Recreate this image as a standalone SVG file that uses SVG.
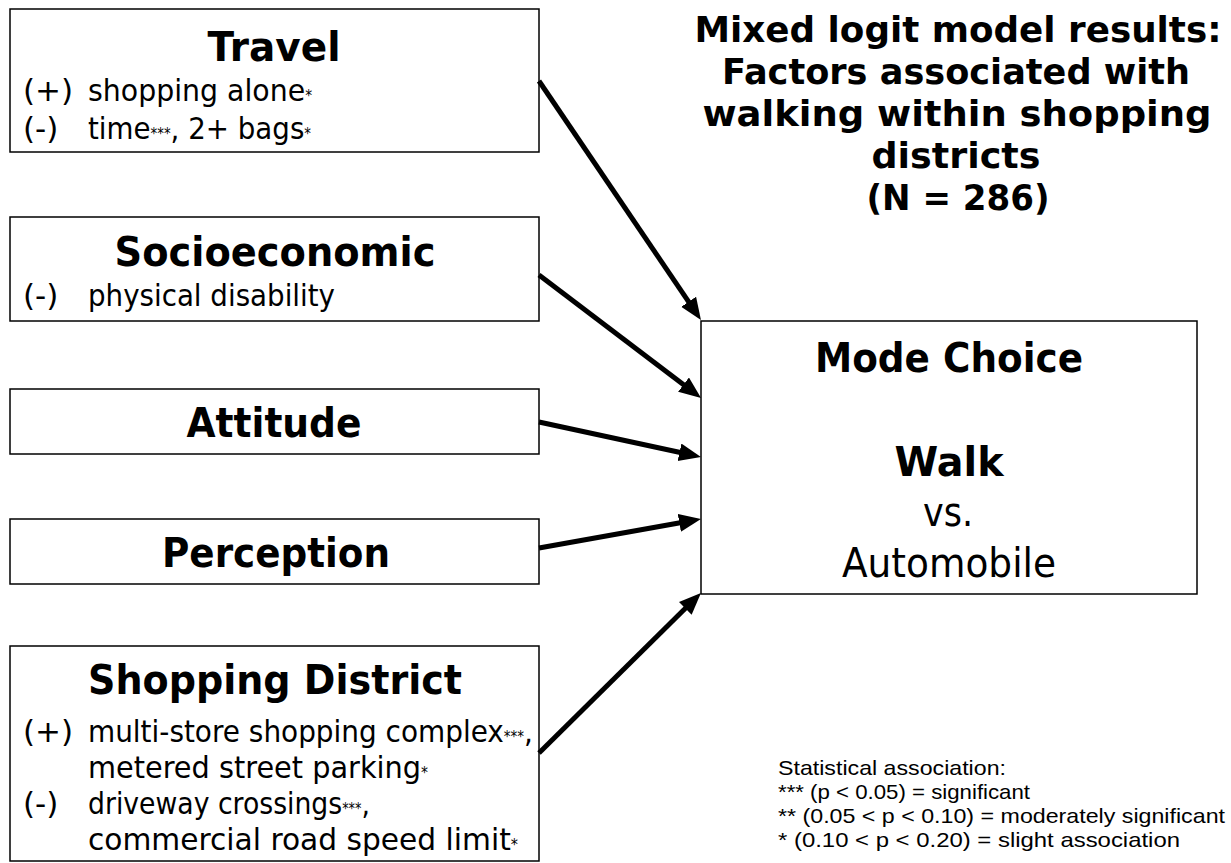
<svg xmlns="http://www.w3.org/2000/svg" width="1231" height="863" viewBox="0 0 1231 863">
<style>
.box{fill:#fff;stroke:#000;stroke-width:1.5}
.h{font-family:"DejaVu Sans",Verdana,sans-serif;font-weight:bold;font-size:41px;text-anchor:middle;fill:#000}
.b{font-family:"DejaVu Sans",Verdana,sans-serif;font-size:31px;fill:#000}
.r{font-family:"DejaVu Sans",Verdana,sans-serif;font-size:40px;text-anchor:middle;fill:#000}
.s{font-size:15px}
.t{font-family:"DejaVu Sans",Verdana,sans-serif;font-weight:bold;font-size:36px;text-anchor:middle;fill:#000}
.n{font-family:"Liberation Sans",Arial,sans-serif;font-size:21px;fill:#000}
.c{stroke:#000;stroke-width:5;fill:none}
</style>
<defs>
<marker id="ah" markerUnits="userSpaceOnUse" markerWidth="24" markerHeight="20" refX="8" refY="9" orient="auto"><path d="M0,0 L22,9 L0,18 z" fill="#000"/></marker>
</defs>
<rect width="1231" height="863" fill="#fff"/>

<g id="title">
<text class="t" x="958" y="42" textLength="527" lengthAdjust="spacingAndGlyphs">Mixed logit model results:</text>
<text class="t" x="956" y="84" textLength="468" lengthAdjust="spacingAndGlyphs">Factors associated with</text>
<text class="t" x="957" y="126" textLength="509" lengthAdjust="spacingAndGlyphs">walking within shopping</text>
<text class="t" x="956" y="168" textLength="169" lengthAdjust="spacingAndGlyphs">districts</text>
<text class="t" x="958" y="210" textLength="183" lengthAdjust="spacingAndGlyphs">(N = 286)</text>
</g>

<g id="travel">
<rect class="box" x="10" y="9" width="529" height="143"/>
<text class="h" x="274" y="61" textLength="133" lengthAdjust="spacingAndGlyphs">Travel</text>
<text class="b" x="23" y="101">(+)</text>
<text class="b" x="88" y="101" textLength="224" lengthAdjust="spacingAndGlyphs">shopping alone<tspan class="s">*</tspan></text>
<text class="b" x="23" y="139">(-)</text>
<text class="b" x="88" y="139" textLength="223" lengthAdjust="spacingAndGlyphs">time<tspan class="s">***</tspan>, 2+ bags<tspan class="s">*</tspan></text>
</g>

<g id="socioeconomic">
<rect class="box" x="10" y="217" width="529" height="104"/>
<text class="h" x="275" y="266" textLength="321" lengthAdjust="spacingAndGlyphs">Socioeconomic</text>
<text class="b" x="23" y="306">(-)</text>
<text class="b" x="88" y="306" textLength="247" lengthAdjust="spacingAndGlyphs">physical disability</text>
</g>

<g id="attitude">
<rect class="box" x="10" y="389" width="529" height="65"/>
<text class="h" x="274" y="437" textLength="175" lengthAdjust="spacingAndGlyphs">Attitude</text>
</g>

<g id="perception">
<rect class="box" x="10" y="519" width="529" height="65"/>
<text class="h" x="276" y="567" textLength="228" lengthAdjust="spacingAndGlyphs">Perception</text>
</g>

<g id="shopping-district">
<rect class="box" x="10" y="646" width="529" height="215"/>
<text class="h" x="275" y="694" textLength="374" lengthAdjust="spacingAndGlyphs">Shopping District</text>
<text class="b" x="23" y="742">(+)</text>
<text class="b" x="88" y="742" textLength="445" lengthAdjust="spacingAndGlyphs">multi-store shopping complex<tspan class="s">***</tspan>,</text>
<text class="b" x="88" y="778" textLength="340" lengthAdjust="spacingAndGlyphs">metered street parking<tspan class="s">*</tspan></text>
<text class="b" x="23" y="814">(-)</text>
<text class="b" x="88" y="814" textLength="282" lengthAdjust="spacingAndGlyphs">driveway crossings<tspan class="s">***</tspan>,</text>
<text class="b" x="88" y="850" textLength="430" lengthAdjust="spacingAndGlyphs">commercial road speed limit<tspan class="s">*</tspan></text>
</g>

<g id="mode-choice">
<rect class="box" x="701" y="321" width="496" height="273"/>
<text class="h" x="949" y="372" textLength="268" lengthAdjust="spacingAndGlyphs">Mode Choice</text>
<text class="h" x="949" y="476" textLength="109" lengthAdjust="spacingAndGlyphs">Walk</text>
<text class="r" x="948" y="526" textLength="50" lengthAdjust="spacingAndGlyphs">vs.</text>
<text class="r" x="949" y="577" textLength="214" lengthAdjust="spacingAndGlyphs">Automobile</text>
</g>

<g id="legend">
<text class="n" x="778" y="775" textLength="228" lengthAdjust="spacingAndGlyphs">Statistical association:</text>
<text class="n" x="778" y="799" textLength="252" lengthAdjust="spacingAndGlyphs">*** (p &lt; 0.05) = significant</text>
<text class="n" x="778" y="823" textLength="447" lengthAdjust="spacingAndGlyphs">** (0.05 &lt; p &lt; 0.10) = moderately significant</text>
<text class="n" x="778" y="847" textLength="402" lengthAdjust="spacingAndGlyphs">* (0.10 &lt; p &lt; 0.20) = slight association</text>
</g>

<g id="connectors">
<line class="c" x1="539" y1="81" x2="693.1" y2="308.4" marker-end="url(#ah)"/>
<line class="c" x1="539" y1="275" x2="689.9" y2="389.5" marker-end="url(#ah)"/>
<line class="c" x1="539" y1="422" x2="687.3" y2="454.0" marker-end="url(#ah)"/>
<line class="c" x1="539" y1="548" x2="687.2" y2="521.5" marker-end="url(#ah)"/>
<line class="c" x1="539" y1="753" x2="691.0" y2="602.8" marker-end="url(#ah)"/>
</g>
</svg>
